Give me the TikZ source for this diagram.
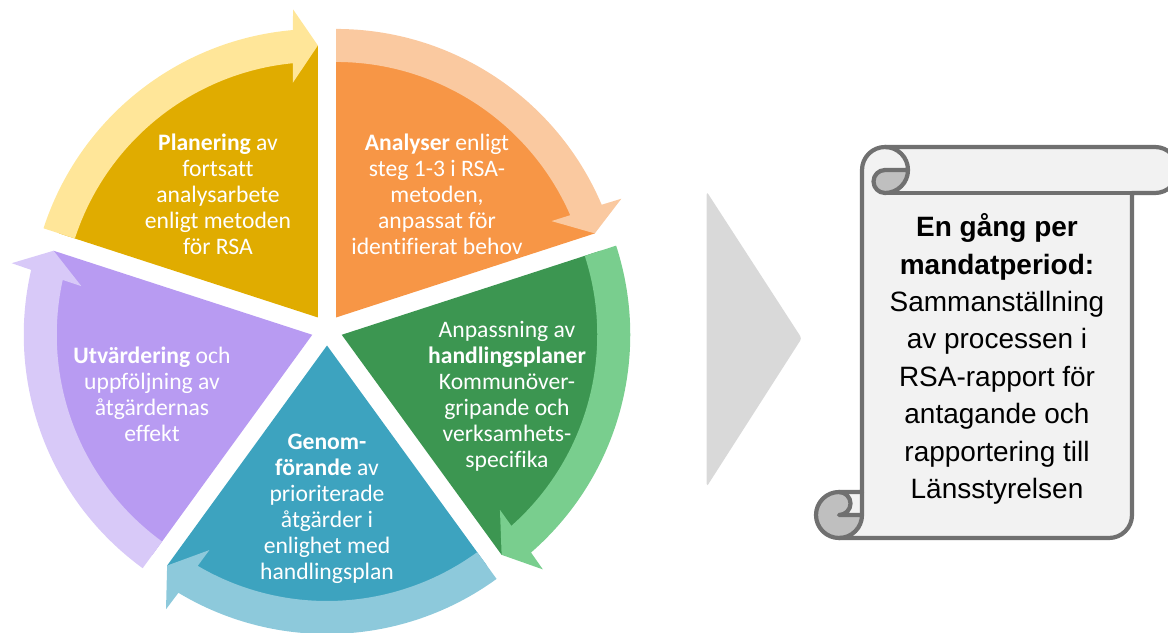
\documentclass[tikz,border=0pt]{standalone}
\usepackage{fontspec}
\setmainfont{Carlito}[Ligatures=NoCommon]
\newfontfamily\scrollfont{Liberation Sans}
\usetikzlibrary{calc}

\definecolor{planDark}{HTML}{E0AC00}
\definecolor{planLight}{HTML}{FFE699}
\definecolor{anaDark}{HTML}{F79646}
\definecolor{anaLight}{HTML}{FAC9A0}
\definecolor{anpDark}{HTML}{3C9651}
\definecolor{anpLight}{HTML}{79CE8E}
\definecolor{genDark}{HTML}{3DA3BF}
\definecolor{genLight}{HTML}{8DC9DB}
\definecolor{utvDark}{HTML}{B89BF2}
\definecolor{utvLight}{HTML}{D8C9F8}
\definecolor{chevGray}{HTML}{D9D9D9}
\definecolor{scrollFill}{HTML}{F2F2F2}
\definecolor{scrollDark}{HTML}{BFBFBF}
\definecolor{scrollLine}{HTML}{707070}

\def\pxu{0.025cm}

\begin{document}
\begin{tikzpicture}
          [x=0.025cm,y=0.025cm,
           slicetext/.style={text=white,align=center,inner sep=0pt,font=\fontsize{16.8}{18.5}\selectfont},
           scrolltext/.style={text=black,align=center,inner sep=0pt,font=\scrollfont\fontsize{19.9}{26.6}\selectfont},
           scrolledge/.style={draw=scrollLine,line width=3pt,line join=round}]
          \useasboundingbox (0,0) rectangle (1168,632);
          \coordinate (ctr) at (327,302);

          % the five slices, each with its arrow on the rim
          \foreach \mid/\cDark/\cLight in {126/planDark/planLight,54/anaDark/anaLight,-18/anpDark/anpLight,-90/genDark/genLight,-162/utvDark/utvLight}
          {
            \pgfmathsetmacro\aStart{\mid+36}
            \pgfmathsetmacro\aEnd{\mid-36}
            \pgfmathsetmacro\aBo{\aEnd+5}
            \pgfmathsetmacro\aBi{\aEnd+5.6}
            \pgfmathsetmacro\aHo{\aEnd+4.6}
            \pgfmathsetmacro\aHi{\aEnd+6.1}
            \coordinate (apex) at ($(ctr)+(\mid:15.5)$);
            \fill[fill=\cDark] (apex) -- ($(apex)+(\aStart:272)$)
              arc[start angle=\aStart,end angle=\aEnd,radius=272*\pxu] -- cycle;
            \fill[fill=\cLight] ($(apex)+(\aStart:288.5)$)
              arc[start angle=\aStart,end angle=\aBo,radius=288.5*\pxu]
              -- ($(apex)+(\aHo:309)$) -- ($(apex)+(\aEnd:272)$) -- ($(apex)+(\aHi:236)$)
              -- ($(apex)+(\aBi:255.5)$)
              arc[start angle=\aBi,end angle=\aStart,radius=255.5*\pxu] -- cycle;
          }

          \node[slicetext] (plan) at (218,438) {\textbf{Planering} av\\fortsatt\\analysarbete\\enligt metoden\\för RSA};
          \node[slicetext] (ana) at (437,438) {\textbf{Analyser} enligt\\steg 1-3 i RSA-\\metoden,\\anpassat för\\identifierat behov};
          \node[slicetext] (anp) at (507,236) {Anpassning av\\\textbf{handlingsplaner}\\Kommunöver-\\gripande och\\verksamhets-\\specifika};
          \node[slicetext] (gen) at (327,123) {\textbf{Genom-}\\\textbf{förande} av\\prioriterade\\åtgärder i\\enlighet med\\handlingsplan};
          \node[slicetext] (utv) at (152,238) {\textbf{Utvärdering} och\\uppföljning av\\åtgärdernas\\effekt};

          % chevron
          \fill[chevGray,rounded corners=2pt] (706.7,440.3) -- (801.7,293.7) -- (706.7,145.3) -- cycle;

          % scroll
          \fill[scrollFill] (862,140) -- (862,462) arc[start angle=180,end angle=90,radius=23*\pxu]
            -- (1155,485) arc[start angle=90,end angle=-90,radius=23*\pxu]
            -- (1132,439) -- (1132,117) arc[start angle=0,end angle=-90,radius=23*\pxu]
            -- (839,94) arc[start angle=-90,end angle=-270,radius=23*\pxu] -- cycle;
          \fill[scrollDark] (908,462) arc[start angle=0,end angle=-90,radius=23*\pxu]
            arc[start angle=-90,end angle=-270,radius=11.5*\pxu] -- cycle;
          \fill[scrollDark] (862,117) arc[start angle=0,end angle=-270,radius=23*\pxu]
            arc[start angle=90,end angle=-90,radius=11.5*\pxu] -- cycle;
          \draw[scrolledge] (862,140) -- (862,462) arc[start angle=180,end angle=90,radius=23*\pxu]
            -- (1155,485) arc[start angle=90,end angle=-90,radius=23*\pxu]
            -- (1132,439) -- (1132,117) arc[start angle=0,end angle=-90,radius=23*\pxu]
            -- (839,94) arc[start angle=-90,end angle=-270,radius=23*\pxu] -- cycle;
          \draw[scrolledge] (885,485) arc[start angle=90,end angle=-90,radius=23*\pxu]
            arc[start angle=-90,end angle=-270,radius=11.5*\pxu] -- (908,462);
          \draw[scrolledge] (1132,439) -- (885,439);
          \draw[scrolledge] (839,140) arc[start angle=90,end angle=-90,radius=11.5*\pxu] -- (862,117);
          \draw[scrolledge] (839,94) arc[start angle=-90,end angle=0,radius=23*\pxu] -- (862,140);

          \node[scrolltext] (note) at (997,273) {\textbf{En gång per}\\\textbf{mandatperiod:}\\Sammanställning\\av processen i\\RSA-rapport för\\antagande och\\rapportering till\\Länsstyrelsen};

        \end{tikzpicture}
\end{document}
